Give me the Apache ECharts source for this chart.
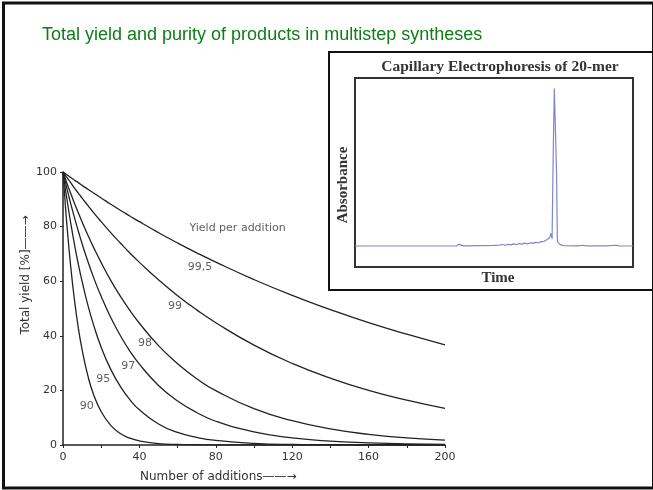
<!DOCTYPE html>
<html>
<head>
<meta charset="utf-8">
<script src="https://cdn.jsdelivr.net/npm/echarts@6/dist/echarts.min.js"></script>
<style>
  html, body { margin: 0; padding: 0; background: #fff; }
  #chart { width: 653px; height: 490px; }
</style>
</head>
<body>
<div id="chart"></div>
<script>
// number of additions (x) and total yield [%]
var additions = [0, 1, 2, 4, 6, 8, 10, 13, 16, 20, 25, 30, 35, 40, 50, 60, 70, 80, 100, 120, 140, 160, 180, 200];
var yield995 = [100, 99.5, 99.0, 98.0, 97.0, 96.1, 95.1, 93.7, 92.3, 90.5, 88.2, 86.0, 83.9, 81.8, 77.8, 74.0, 70.4, 67.0, 60.6, 54.8, 49.6, 44.8, 40.6, 36.7];
var yield99  = [100, 99.0, 98.0, 96.1, 94.1, 92.3, 90.4, 87.8, 85.1, 81.8, 77.8, 74.0, 70.3, 66.9, 60.5, 54.7, 49.5, 44.8, 36.6, 29.9, 24.5, 20.0, 16.4, 13.4];
var yield98  = [100, 98.0, 96.0, 92.2, 88.6, 85.1, 81.7, 76.9, 72.4, 66.8, 60.3, 54.5, 49.3, 44.6, 36.4, 29.8, 24.3, 19.9, 13.3, 8.9, 5.9, 3.9, 2.6, 1.8];
var yield97  = [100, 97.0, 94.1, 88.5, 83.3, 78.4, 73.7, 67.3, 61.4, 54.4, 46.7, 40.1, 34.4, 29.6, 21.8, 16.1, 11.9, 8.7, 4.8, 2.6, 1.4, 0.8, 0.4, 0.2];
var yield95  = [100, 95.0, 90.3, 81.5, 73.5, 66.3, 59.9, 51.3, 44.0, 35.8, 27.7, 21.5, 16.6, 12.9, 7.7, 4.6, 2.8, 1.7, 0.6, 0.2, 0.1, 0, 0, 0];
var yield90  = [100, 90.0, 81.0, 65.6, 53.1, 43.0, 34.9, 25.4, 18.5, 12.2, 7.2, 4.2, 2.5, 1.5, 0.5, 0.2, 0.1, 0, 0, 0, 0, 0, 0, 0];
var stepYields = ['99,5', '99', '98', '97', '95', '90'];
// where the curve names sit (data coords)
var stepLabelPos = [[71.7, 65.1], [58.6, 50.7], [42.9, 37.3], [34.2, 28.9], [21.1, 24.1], [12.4, 14.3]];

// capillary electrophoresis trace (arbitrary time / absorbance units)
var ceTime = [0, 20, 36.5, 37.4, 37.8, 38.2, 39, 45, 50, 52, 53, 54, 55, 56, 57, 58, 59, 60, 61, 62, 63, 64, 65, 66, 67, 68, 69, 70, 70.5, 70.9, 71.3, 71.7, 72.1, 72.5, 72.8, 73.7, 74.9, 80, 82, 83, 90, 94, 95, 100];
var ceAbs  = [11.1, 11.1, 11.1, 12.0, 12.9, 11.6, 11.2, 11.3, 11.4, 11.6, 11.9, 11.5, 12.0, 11.7, 12.2, 11.8, 12.4, 12.1, 12.6, 12.2, 12.8, 12.5, 13.0, 12.8, 13.4, 13.6, 14.4, 15.5, 17.8, 15.0, 60, 94.5, 94.5, 50, 13.4, 12.0, 11.3, 11.2, 11.5, 11.2, 11.2, 11.5, 11.2, 11.1];

var chart = echarts.init(document.getElementById('chart'));

function pairs(xs, ys) {
	return xs.map(function (x, i) { return [x, ys[i]]; });
}

var curves = [yield995, yield99, yield98, yield97, yield95, yield90];
var series = curves.map(function (c, i) {
	return {
		name: stepYields[i],
		type: 'line',
		xAxisIndex: 0,
		yAxisIndex: 0,
		smooth: true,
		showSymbol: false,
		lineStyle: { color: '#222', width: 1.3 },
		data: pairs(additions, c)
	};
});

series.push({
	type: 'scatter',
	xAxisIndex: 0,
	yAxisIndex: 0,
	symbolSize: 0,
	label: {
		show: true,
		position: 'inside',
		formatter: '{b}',
		color: '#333',
		fontSize: 11,
		fontFamily: 'DejaVu Sans'
	},
	data: stepYields.map(function (s, i) {
		return { name: s, value: stepLabelPos[i] };
	}).concat([{ name: 'Yield per addition', value: [91.4, 79.4] }])
});

series.push({
	type: 'line',
	xAxisIndex: 1,
	yAxisIndex: 1,
	showSymbol: false,
	lineStyle: { color: '#7f86cc', width: 1.2 },
	data: pairs(ceTime, ceAbs)
});

var axisTxt = { color: '#333', fontSize: 11, fontFamily: 'DejaVu Sans' };

var option = {
	animation: false,
	backgroundColor: '#fff',
	title: {
		text: 'Total yield and purity of products in multistep syntheses',
		left: 42,
		top: 26.5,
		padding: 0,
		textStyle: { color: '#0d7d16', fontSize: 18, fontWeight: 'normal', fontFamily: 'Liberation Sans' }
	},
	grid: [
		{ left: 63, right: 208, top: 172, bottom: 45 },
		{ left: 355, right: 20, top: 78, bottom: 223, show: true, borderColor: '#333', borderWidth: 2 }
	],
	xAxis: [
		{
			type: 'value', gridIndex: 0, min: 0, max: 200, interval: 40,
			axisLine: { lineStyle: { color: '#222', width: 1.5 } },
			axisTick: { length: 3, lineStyle: { color: '#222' } },
			minorTick: { show: true, splitNumber: 2, length: 3, lineStyle: { color: '#222' } },
			splitLine: { show: false },
			axisLabel: Object.assign({ margin: 7 }, axisTxt)
		},
		{ type: 'value', gridIndex: 1, min: 0, max: 100, show: false }
	],
	yAxis: [
		{
			type: 'value', gridIndex: 0, min: 0, max: 100, interval: 20,
			axisLine: { show: true, lineStyle: { color: '#222', width: 1.5 } },
			axisTick: { show: true, length: 3, lineStyle: { color: '#222' } },
			splitLine: { show: false },
			axisLabel: Object.assign({ margin: 6 }, axisTxt)
		},
		{ type: 'value', gridIndex: 1, min: 0, max: 100, show: false }
	],
	graphic: [
		// slide frame
		{ type: 'rect', shape: { x: 3.5, y: 3, width: 650, height: 485 }, style: { fill: 'none', stroke: '#111', lineWidth: 3 }, silent: true },
		// inset frame
		{ type: 'rect', shape: { x: 329, y: 52, width: 330, height: 238 }, style: { fill: 'none', stroke: '#111', lineWidth: 2 }, silent: true },
		{ type: 'text', x: 500, y: 67, style: { text: 'Capillary Electrophoresis of 20-mer', align: 'center', verticalAlign: 'middle', fill: '#333', font: 'bold 15.5px "Liberation Serif"' } },
		{ type: 'text', x: 498, y: 278.5, style: { text: 'Time', align: 'center', verticalAlign: 'middle', fill: '#333', font: 'bold 15px "Liberation Serif"' } },
		{ type: 'text', x: 343, y: 185, rotation: Math.PI / 2, style: { text: 'Absorbance', align: 'center', verticalAlign: 'middle', fill: '#333', font: 'bold 15px "Liberation Serif"' } },
		// axis names of the yield chart
		{ type: 'text', x: 140, y: 477, style: { text: 'Number of additions\u2014\u2014\u2192', align: 'left', verticalAlign: 'middle', fill: '#333', font: '12px "DejaVu Sans"' } },
		{ type: 'text', x: 26, y: 275, rotation: Math.PI / 2, style: { text: 'Total yield [%]\u2014\u2014\u2192', align: 'center', verticalAlign: 'middle', fill: '#333', font: '12px "DejaVu Sans"' } }
	],
	series: series
};

chart.setOption(option);
</script>
</body>
</html>
